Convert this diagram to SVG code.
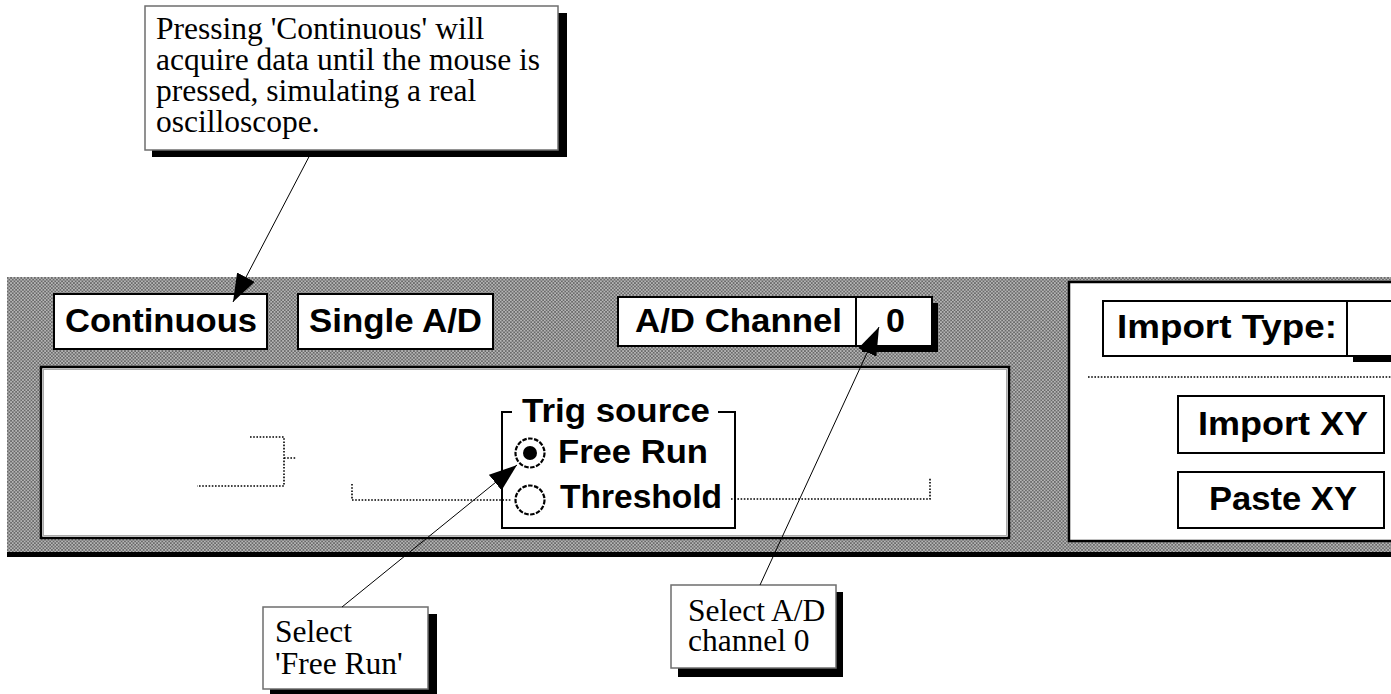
<svg xmlns="http://www.w3.org/2000/svg" width="1391" height="694" viewBox="0 0 1391 694">
  <defs>
    <!-- halftone fill of the control strip -->
    <pattern id="mesh" width="3.4" height="3.4" patternUnits="userSpaceOnUse">
      <rect width="3.4" height="3.4" fill="#6a6a6a"/>
      <rect x="0.2" y="0.2" width="1.3" height="1.3" fill="#ececec"/>
      <rect x="1.9" y="1.9" width="1.3" height="1.3" fill="#ececec"/>
    </pattern>
    <marker id="head" viewBox="0 0 28 20" refX="28" refY="10" markerWidth="28" markerHeight="20" markerUnits="userSpaceOnUse" orient="auto">
      <path d="M0,0 L28,10 L0,20 z" fill="#000"/>
    </marker>
    <style>
      .ui { font-family: "Liberation Sans", Arial, sans-serif; font-weight: bold; font-size: 34px; fill: #000; }
      .note { font-family: "Liberation Serif", "Times New Roman", serif; font-size: 31.5px; fill: #000; }
      .btn { fill: #fff; stroke: #000; stroke-width: 2; }
      .panel { fill: #fff; stroke: #000; stroke-width: 2.5; }
      .shadow { fill: #000; }
      .callout { fill: #fff; stroke: #6e6e6e; stroke-width: 1.5; }
      .dots { fill: none; stroke: #000; stroke-width: 1.6; stroke-dasharray: 1.6 1.6; }
      .frame { fill: none; stroke: #000; stroke-width: 2; }
      .ring { fill: #fff; stroke: #000; stroke-width: 2.2; stroke-dasharray: 4.5 1.5; }
      .link { fill: none; stroke: #000; stroke-width: 1; }
    </style>
  </defs>

  <rect width="1391" height="694" fill="#fff"/>

  <!-- control strip background -->
  <g id="strip">
    <rect x="7" y="277" width="1384" height="275" fill="url(#mesh)"/>
    <rect x="7" y="552" width="1384" height="5" fill="#000"/>
  </g>

  <!-- acquisition panel -->
  <g id="acquire-panel">
    <rect class="panel" x="41" y="367" width="968" height="171"/>
    <rect x="43.5" y="369.5" width="963" height="166" fill="none" stroke="#aaa" stroke-width="1"/>
    <polyline class="dots" points="250,437 284,437 284,486 197,486"/>
    <polyline class="dots" points="284,458 296,458"/>
    <polyline class="dots" points="352,484 352,500 512,500"/>
    <polyline class="dots" points="731,499 930,499 930,478"/>
  </g>

  <g id="btn-continuous">
    <rect class="btn" x="54" y="294" width="213" height="55"/>
    <text class="ui" x="65" y="332" textLength="192" lengthAdjust="spacingAndGlyphs">Continuous</text>
  </g>

  <g id="btn-single">
    <rect class="btn" x="298" y="294" width="195" height="55"/>
    <text class="ui" x="309" y="332" textLength="173" lengthAdjust="spacingAndGlyphs">Single A/D</text>
  </g>

  <g id="channel-select">
    <rect class="shadow" x="862" y="303" width="76" height="49"/>
    <rect class="btn" x="618" y="297" width="238" height="49"/>
    <rect class="btn" x="856" y="297" width="76" height="49"/>
    <text class="ui" x="635" y="332" textLength="207" lengthAdjust="spacingAndGlyphs">A/D Channel</text>
    <text class="ui" x="886" y="332">0</text>
  </g>

  <g id="trig-source">
    <path class="frame" d="M512,412 H502 V528 H735 V412 H718"/>
    <text class="ui" x="522" y="422" textLength="188" lengthAdjust="spacingAndGlyphs">Trig source</text>
    <circle class="ring" cx="530" cy="453" r="14.5"/>
    <circle cx="530" cy="453" r="7" fill="#000"/>
    <text class="ui" x="558" y="463" textLength="150" lengthAdjust="spacingAndGlyphs">Free Run</text>
    <circle class="ring" cx="530" cy="500" r="14.5"/>
    <text class="ui" x="560" y="508" textLength="162" lengthAdjust="spacingAndGlyphs">Threshold</text>
  </g>

  <!-- import panel, running off the right edge -->
  <g id="import-panel">
    <rect class="panel" x="1069" y="282" width="340" height="259"/>
    <rect class="shadow" x="1353" y="356" width="40" height="6"/>
    <rect class="btn" x="1103" y="301" width="300" height="55"/>
    <line x1="1347" y1="301" x2="1347" y2="356" stroke="#000" stroke-width="2"/>
    <text class="ui" x="1117" y="338" textLength="220" lengthAdjust="spacingAndGlyphs">Import Type:</text>
    <line class="dots" x1="1088" y1="377" x2="1391" y2="377"/>
  </g>

  <g id="btn-import-xy">
    <rect class="btn" x="1178" y="396" width="206" height="57"/>
    <text class="ui" x="1198" y="435" textLength="170" lengthAdjust="spacingAndGlyphs">Import XY</text>
  </g>

  <g id="btn-paste-xy">
    <rect class="btn" x="1178" y="472" width="206" height="56"/>
    <text class="ui" x="1209" y="510" textLength="148" lengthAdjust="spacingAndGlyphs">Paste XY</text>
  </g>

  <!-- callout notes -->
  <g id="note-continuous">
    <rect class="shadow" x="152" y="13" width="415" height="144"/>
    <rect class="callout" x="145" y="6" width="413" height="144"/>
    <text class="note" x="156" y="39">
      <tspan x="156" y="39">Pressing 'Continuous' will</tspan>
      <tspan x="156" y="70">acquire data until the mouse is</tspan>
      <tspan x="156" y="101">pressed, simulating a real</tspan>
      <tspan x="156" y="132">oscilloscope.</tspan>
    </text>
  </g>

  <g id="note-free-run">
    <rect class="shadow" x="270" y="614" width="167" height="80"/>
    <rect class="callout" x="263" y="607" width="165" height="82"/>
    <text class="note" x="275" y="642">
      <tspan x="275" y="642">Select</tspan>
      <tspan x="275" y="674">'Free Run'</tspan>
    </text>
  </g>

  <g id="note-channel">
    <rect class="shadow" x="678" y="592" width="165" height="85"/>
    <rect class="callout" x="671" y="585" width="165" height="83"/>
    <text class="note" x="688" y="621">
      <tspan x="688" y="621">Select A/D</tspan>
      <tspan x="688" y="651">channel 0</tspan>
    </text>
  </g>

  <!-- connectors -->
  <g id="connectors">
    <line class="link" x1="312" y1="151" x2="233" y2="302" marker-end="url(#head)"/>
    <line class="link" x1="342" y1="607" x2="517" y2="465" marker-end="url(#head)"/>
    <line class="link" x1="760" y1="585" x2="879" y2="327" marker-end="url(#head)"/>
  </g>
</svg>
